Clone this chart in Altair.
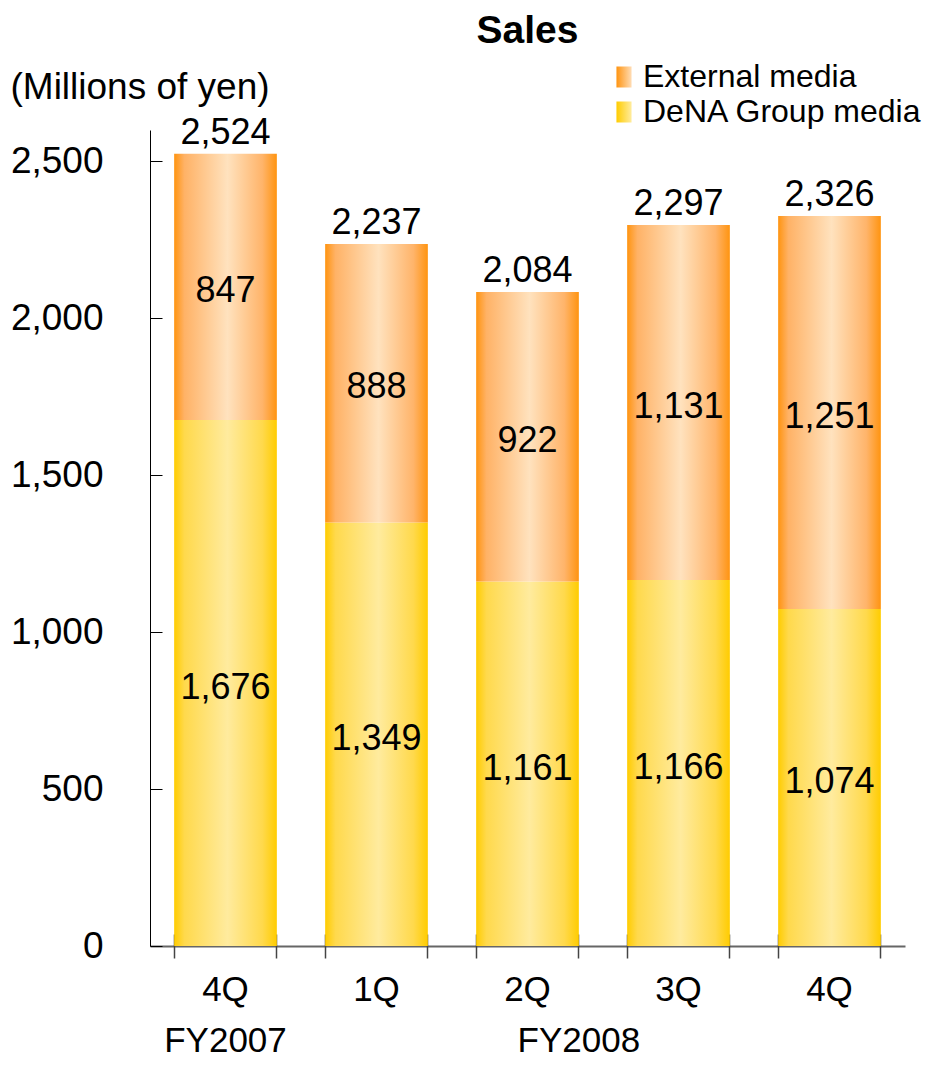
import altair as alt
import pandas as pd

FONT = "Liberation Sans"

# ---- data ----
categories = ["FY2007|4Q", "FY2008|1Q", "FY2008|2Q", "FY2008|3Q", "FY2008|4Q"]
dena_group = [1676, 1349, 1161, 1166, 1074]
external = [847, 888, 922, 1131, 1251]
totals = [2524, 2237, 2084, 2297, 2326]
series_names = ["External media", "DeNA Group media"]
y_ticks = [0, 500, 1000, 1500, 2000, 2500]
fiscal_years = ["FY2007", "FY2008"]
fy_anchor = ["FY2007|4Q", "FY2008|2Q"]

W, H = 755, 816

df = pd.DataFrame({"cat": categories, "dena": dena_group, "ext": external, "total": totals})
df_fy = pd.DataFrame({"fy": fiscal_years, "cat": fy_anchor})
df_leg = pd.DataFrame({"series": series_names})


def grad(edge, mid1, center, mid2):
    return {
        "gradient": "linear", "x1": 0, "x2": 1, "y1": 0, "y2": 0,
        "stops": [
            {"offset": 0, "color": edge},
            {"offset": 0.1, "color": mid1},
            {"offset": 0.52, "color": center},
            {"offset": 0.86, "color": mid2},
            {"offset": 1, "color": edge},
        ],
    }


grad_orange = grad("#FF9410", "#FFB266", "#FFE2BE", "#FFB46A")
grad_yellow = grad("#FFCC00", "#FFD94C", "#FFEB9E", "#FFD94C")

# legend swatch gradients (dark edge on the left, light on the right)
leg_expr = (
    "(datum.series || datum.value) === 'External media' ? "
    "{gradient: 'linear', x1: 0, x2: 1, y1: 0, y2: 0, stops: "
    "[{offset: 0, color: '#FF9410'}, {offset: 1, color: '#FFDCB4'}]} : "
    "{gradient: 'linear', x1: 0, x2: 1, y1: 0, y2: 0, stops: "
    "[{offset: 0, color: '#FFCC00'}, {offset: 1, color: '#FFEC9E'}]}"
)
rect_path = "M-0.72,-1H0.72V1H-0.72Z"

y_scale = alt.Scale(domain=[0, 2600], nice=False)
x_scale = alt.Scale(paddingInner=0.32, paddingOuter=0.16)

base = alt.Chart(df)

x_main_axis = alt.Axis(
    orient="bottom", title=None, labelExpr="split(datum.label, '|')[1]", ticks=False,
    domain=True, domainColor="black", domainOpacity=0.6, domainWidth=2,
    labelPadding=26, labelFontSize=35, labelFont=FONT, labelAngle=0, labelColor="black", grid=False,
)
y_main_axis = alt.Axis(
    orient="left", values=y_ticks, format=",.0f", ticks=False, domain=True, domainColor="black",
    domainWidth=1, labelPadding=47, labelFontSize=37, labelFont=FONT, labelColor="black",
    title="(Millions of yen)", titleAngle=0, titleAlign="left", titleBaseline="alphabetic",
    titleX=-140, titleY=-32, titleFontSize=37, titleFont=FONT, titleFontWeight="normal",
    titleColor="black", grid=False,
)
y_tick_axis = alt.Axis(
    orient="right", offset=-W, values=y_ticks, labels=False, domain=False, ticks=True,
    tickSize=12, tickColor="black", tickWidth=1, title=None, grid=False,
)
x_tick_axis0 = alt.Axis(
    orient="bottom", offset=-12, tickSize=24, bandPosition=0, labels=False, domain=False,
    ticks=True, title=None, tickColor="#444444", tickWidth=1.5, grid=False,
)
x_tick_axis1 = alt.Axis(
    orient="bottom", offset=-12, tickSize=24, bandPosition=1, labels=False, domain=False,
    ticks=True, title=None, tickColor="#444444", tickWidth=1.5, grid=False,
)

yellow = base.mark_bar(fill=grad_yellow).encode(
    x=alt.X("cat:N", sort=categories, scale=x_scale, axis=x_main_axis),
    y=alt.Y("dena:Q", scale=y_scale, axis=y_main_axis),
)
orange = base.mark_bar(fill=grad_orange).encode(
    x=alt.X("cat:N", sort=categories, axis=None),
    y=alt.Y("dena:Q", axis=y_tick_axis),
    y2="total:Q",
)
total_text = base.mark_text(baseline="bottom", dy=-2, fontSize=36, font=FONT, color="black").encode(
    x=alt.X("cat:N", sort=categories, axis=x_tick_axis0),
    y=alt.Y("total:Q", axis=None),
    text=alt.Text("total:Q", format=","),
)
ext_text = base.transform_calculate(mid="datum.dena + datum.ext / 2").mark_text(
    baseline="middle", dy=4, fontSize=36, font=FONT, color="black"
).encode(
    x=alt.X("cat:N", sort=categories, axis=x_tick_axis1),
    y=alt.Y("mid:Q", axis=None),
    text=alt.Text("ext:Q", format=","),
)
dena_text = base.transform_calculate(mid="datum.dena / 2").mark_text(
    baseline="middle", dy=5, fontSize=36, font=FONT, color="black"
).encode(
    x=alt.X("cat:N", sort=categories, axis=None),
    y=alt.Y("mid:Q", axis=None),
    text=alt.Text("dena:Q", format=","),
)
fy07 = alt.Chart(df_fy).transform_filter(alt.datum.fy == "FY2007").mark_text(
    baseline="alphabetic", fontSize=35, font=FONT, color="black"
).encode(
    x=alt.X("cat:N", sort=categories, bandPosition=0.5, axis=None),
    y=alt.value(H + 106),
    text="fy:N",
)
fy08 = alt.Chart(df_fy).transform_filter(alt.datum.fy == "FY2008").mark_text(
    baseline="alphabetic", fontSize=35, font=FONT, color="black"
).encode(
    x=alt.X("cat:N", sort=categories, bandPosition=1, axis=None),
    y=alt.value(H + 106),
    text="fy:N",
)
legend_layer = alt.Chart(df_leg).mark_point(
    filled=True, opacity=0, fill={"expr": leg_expr}
).encode(
    shape=alt.Shape(
        "series:N",
        scale=alt.Scale(domain=series_names, range=[rect_path, rect_path]),
        legend=alt.Legend(
            title=None, orient="none", legendX=458, legendY=-69,
            symbolSize=441, symbolStrokeWidth=0, symbolOpacity=1,
            labelFontSize=32, labelFont=FONT, labelColor="black", rowPadding=3, labelOffset=3,
            labelLimit=400, padding=0,
        ),
    )
)

chart = alt.layer(
    yellow, orange, total_text, ext_text, dena_text, fy07, fy08, legend_layer
).resolve_axis(x="independent", y="independent").properties(
    width=W, height=H,
    title=alt.TitleParams("Sales", fontSize=39, font=FONT, fontWeight="bold", anchor="middle",
                          frame="group", color="black", offset=10),
    autosize=alt.AutoSizeParams(type="none"),
    padding={"left": 142, "top": 122, "right": 21, "bottom": 113},
    background="white",
).configure_view(strokeWidth=0, strokeOpacity=0)

chart.save("out.html", embed_options={"renderer": "svg", "actions": False})
